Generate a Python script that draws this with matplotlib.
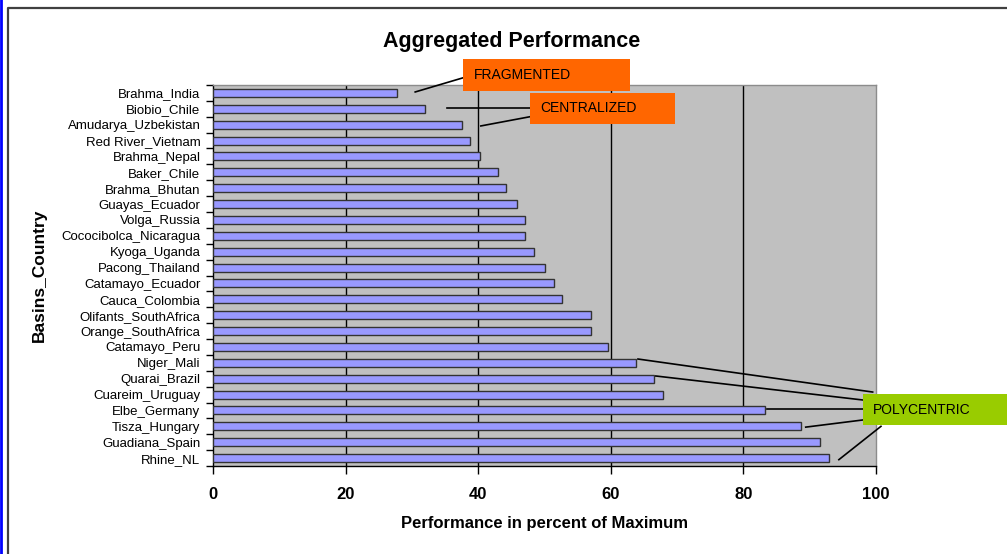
import matplotlib
matplotlib.use("Agg")
import matplotlib.pyplot as plt
from matplotlib.patches import Rectangle
from matplotlib.lines import Line2D
import numpy as np

plt.rcParams["font.family"] = ["Liberation Sans", "DejaVu Sans"]

basins = [
    "Brahma_India", "Biobio_Chile", "Amudarya_Uzbekistan", "Red River_Vietnam",
    "Brahma_Nepal", "Baker_Chile", "Brahma_Bhutan", "Guayas_Ecuador",
    "Volga_Russia", "Cococibolca_Nicaragua", "Kyoga_Uganda", "Pacong_Thailand",
    "Catamayo_Ecuador", "Cauca_Colombia", "Olifants_SouthAfrica", "Orange_SouthAfrica",
    "Catamayo_Peru", "Niger_Mali", "Quarai_Brazil", "Cuareim_Uruguay",
    "Elbe_Germany", "Tisza_Hungary", "Guadiana_Spain", "Rhine_NL",
]
performance = [
    27.8, 32.0, 37.5, 38.8, 40.3, 43.0, 44.2, 45.9,
    47.1, 47.1, 48.4, 50.1, 51.4, 52.7, 57.0, 57.0,
    59.6, 63.8, 66.5, 67.9, 83.3, 88.7, 91.6, 92.9,
]
xticks = [0, 20, 40, 60, 80, 100]

fig = plt.figure(figsize=(10.07, 5.54), dpi=100)
ax = fig.add_axes([0.2115, 0.1588, 0.6584, 0.6878])
ax.set_facecolor("#C0C0C0")

y = np.arange(len(basins))
ax.barh(y, performance, height=0.5, color="#9999FF", edgecolor="#333333",
        linewidth=1.0, zorder=3)
for gx in xticks[1:-1]:
    ax.axvline(gx, color="black", linewidth=1.0, zorder=2)

ax.set_xlim(0, 100)
ax.set_ylim(len(basins) - 0.5, -0.5)
ax.set_xticks(xticks)
ax.set_xticklabels([str(t) for t in xticks], fontsize=12, fontweight="bold")
ax.set_yticks(y)
ax.set_yticklabels(basins, fontsize=9.5)
ax.set_yticks(np.arange(len(basins) + 1) - 0.5, minor=True)
ax.tick_params(axis="y", which="major", length=0, pad=9)
ax.tick_params(axis="y", which="minor", length=5, width=1, direction="out")
ax.tick_params(axis="x", length=6, width=1, direction="out", pad=9)
for s in ("left", "bottom"):
    ax.spines[s].set_color("black")
    ax.spines[s].set_linewidth(1.0)
for s in ("top", "right"):
    ax.spines[s].set_color("#8C8C8C")
    ax.spines[s].set_linewidth(1.0)

ax.set_xlabel("Performance in percent of Maximum", fontsize=12, fontweight="bold", labelpad=10)
ax.set_ylabel("Basins_Country", fontsize=12.5, fontweight="bold")
ax.yaxis.set_label_coords(-0.251, 0.5)
fig.text(0.508, 0.925, "Aggregated Performance", ha="center", va="center",
         fontsize=15.5, fontweight="bold")

# category boxes
boxes = [
    ("FRAGMENTED", 37.7, -2.14, 25.2, 2.0, "#FF6600"),
    ("CENTRALIZED", 47.8, 0.0, 21.9, 1.95, "#FF6600"),
    ("POLYCENTRIC", 98.0, 18.97, 21.8, 1.95, "#99CC00"),
]
for label, bx, by, bw, bh, col in boxes:
    ax.add_patch(Rectangle((bx, by), bw, bh, facecolor=col, edgecolor="none",
                           clip_on=False, zorder=5))
    ax.text(bx + 1.6, by + bh / 2, label, fontsize=10, va="center", ha="left",
            zorder=6, clip_on=False)

# connector lines
links = [
    ((30.5, -0.06), (37.7, -0.95)),
    ((35.3, 0.95), (47.8, 0.95)),
    ((40.4, 2.08), (47.8, 1.5)),
    ((64.1, 16.76), (99.5, 18.84)),
    ((66.8, 17.83), (98.0, 19.34)),
    ((83.6, 19.9), (98.0, 19.9)),
    ((89.4, 21.05), (98.0, 20.6)),
    ((94.4, 23.1), (100.75, 21.0)),
]
for (x0, y0), (x1, y1) in links:
    ax.plot([x0, x1], [y0, y1], color="black", linewidth=1.2, clip_on=False, zorder=4)

# outer frame
fig.add_artist(Line2D([0.0012, 0.0012], [0, 1], color="#0000FF", linewidth=2,
                      transform=fig.transFigure))
fig.add_artist(Line2D([0.0075, 0.0075, 1.0], [0.0, 0.985, 0.985], color="#404040",
                      linewidth=1.6, transform=fig.transFigure))

fig.savefig("out.png", dpi=100)
